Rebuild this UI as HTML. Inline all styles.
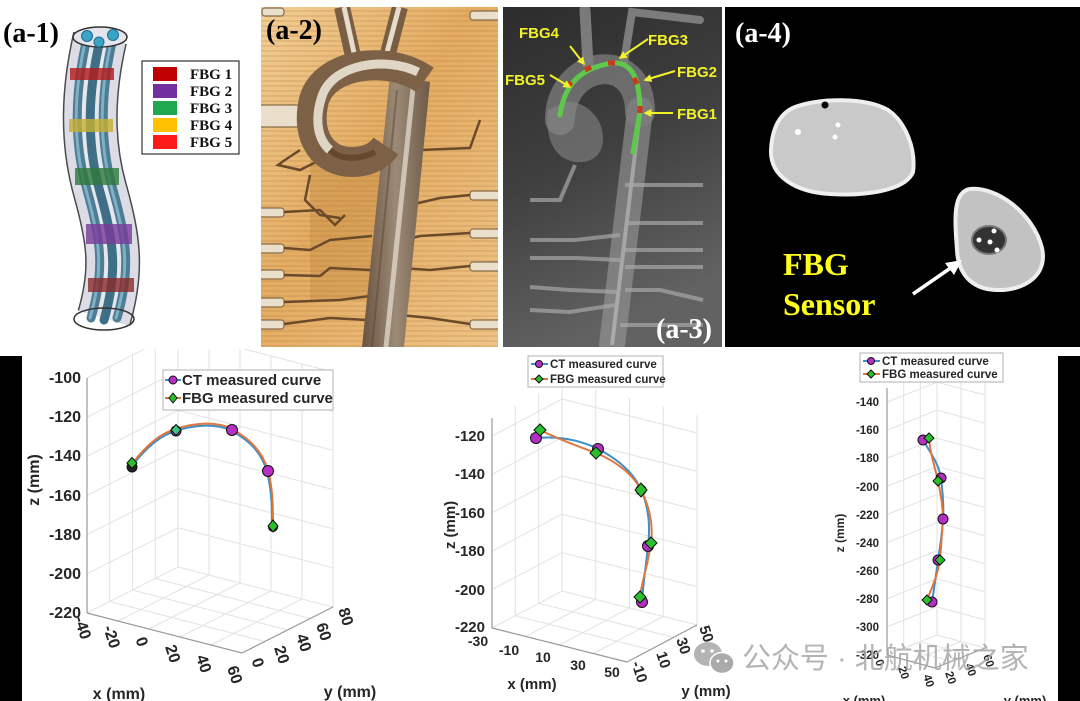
<!DOCTYPE html>
<html><head><meta charset="utf-8"><style>
html,body{margin:0;padding:0;background:#fff;}
svg{display:block;}
.tk{font-family:"Liberation Sans",Arial,sans-serif;font-weight:bold;fill:#262626;}
.sf{font-family:"Liberation Serif","Times New Roman",serif;font-weight:bold;}
.ar{font-family:"Liberation Sans",Arial,sans-serif;font-weight:bold;}
</style></head><body>
<svg width="1080" height="701" viewBox="0 0 1080 701" xmlns="http://www.w3.org/2000/svg">
<defs>
 <linearGradient id="tan" x1="0" y1="0" x2="1" y2="1">
  <stop offset="0" stop-color="#f2cf96"/><stop offset="0.45" stop-color="#e4ac62"/><stop offset="1" stop-color="#eec487"/>
 </linearGradient>
 <pattern id="scan" width="6" height="5" patternUnits="userSpaceOnUse">
  <rect width="6" height="2" fill="#a86f30" opacity="0.18"/>
 </pattern>
 <linearGradient id="dg" x1="0" y1="0" x2="0.3" y2="1">
  <stop offset="0" stop-color="#2c2c2c"/><stop offset="0.5" stop-color="#3f3f3f"/><stop offset="1" stop-color="#626262"/>
 </linearGradient>
 <linearGradient id="aor" x1="0" y1="0" x2="1" y2="0">
  <stop offset="0" stop-color="#6a5440"/><stop offset="0.5" stop-color="#9c8a76"/><stop offset="1" stop-color="#6e5a46"/>
 </linearGradient>
 <marker id="ya" viewBox="0 0 10 10" refX="8" refY="5" markerWidth="4" markerHeight="4" orient="auto">
  <path d="M0,0 L10,5 L0,10 z" fill="#f2f22a"/>
 </marker>
 <clipPath id="bot"><rect x="0" y="349" width="1080" height="352"/></clipPath>
 <clipPath id="a2"><rect x="261" y="7" width="237" height="340"/></clipPath>
 <clipPath id="a3"><rect x="503" y="7" width="219" height="340"/></clipPath>
</defs>

<rect width="1080" height="701" fill="#fff"/>

<!-- ===== (a-1) ===== -->
<g>
 <path d="M100,38 C88,90 86,140 100,190 S118,270 104,318" fill="none" stroke="#4a4a4a" stroke-width="55"/>
 <path d="M100,38 C88,90 86,140 100,190 S118,270 104,318" fill="none" stroke="#dcdce6" stroke-width="52"/>
 <path d="M100,38 C88,90 86,140 100,190 S118,270 104,318" fill="none" stroke="#ececf2" stroke-width="20" opacity="0.6"/>
 <g fill="none" stroke-linecap="round">
  <path transform="translate(-13,0)" d="M100,38 C88,90 86,140 100,190 S118,270 104,318" stroke="#4e7c92" stroke-width="9"/>
  <path transform="translate(0,2)" d="M100,38 C88,90 86,140 100,190 S118,270 104,318" stroke="#3f6f86" stroke-width="9"/>
  <path transform="translate(13,0)" d="M100,38 C88,90 86,140 100,190 S118,270 104,318" stroke="#4e7c92" stroke-width="9"/>
  <path transform="translate(-14,0)" d="M100,38 C88,90 86,140 100,190 S118,270 104,318" stroke="#7fb0c6" stroke-width="3"/>
  <path transform="translate(12,0)" d="M100,38 C88,90 86,140 100,190 S118,270 104,318" stroke="#7fb0c6" stroke-width="3"/>
 </g>
 <g opacity="0.8">
  <rect x="70" y="68" width="44" height="12" fill="#b51a1a"/>
  <rect x="69" y="119" width="44" height="13" fill="#c8b030"/>
  <rect x="75" y="168" width="44" height="17" fill="#2f7a3a"/>
  <rect x="86" y="224" width="46" height="20" fill="#7a3a9a"/>
  <rect x="88" y="278" width="46" height="14" fill="#8a2a2a"/>
 </g>
 <ellipse cx="100" cy="37" rx="27" ry="10" fill="#e4e4ec" stroke="#333" stroke-width="1.5"/>
 <circle cx="87" cy="36" r="5.5" fill="#3aa3c8" stroke="#1d6f8c"/>
 <circle cx="99" cy="42" r="5" fill="#3aa3c8" stroke="#1d6f8c"/>
 <circle cx="113" cy="35" r="5.5" fill="#3aa3c8" stroke="#1d6f8c"/>
 <ellipse cx="104" cy="319" rx="30" ry="11" fill="none" stroke="#333" stroke-width="1.5"/>
 <text x="3" y="42" class="sf" font-size="28" fill="#000">(a-1)</text>
 <rect x="142" y="61" width="97" height="93" fill="#fff" stroke="#333" stroke-width="1.2"/>
 <rect x="153" y="67" width="24" height="14" fill="#c00000"/>
 <rect x="153" y="84" width="24" height="14" fill="#7030a0"/>
 <rect x="153" y="101" width="24" height="14" fill="#1fa84f"/>
 <rect x="153" y="118" width="24" height="14" fill="#ffc000"/>
 <rect x="153" y="135" width="24" height="14" fill="#ff1a1a"/>
 <g class="sf" font-size="15" fill="#111">
  <text x="190" y="79">FBG 1</text><text x="190" y="96">FBG 2</text><text x="190" y="113">FBG 3</text><text x="190" y="130">FBG 4</text><text x="190" y="147">FBG 5</text>
 </g>
</g>

<!-- ===== (a-2) ===== -->
<g clip-path="url(#a2)">
 <rect x="261" y="7" width="237" height="340" fill="url(#tan)"/>
 <rect x="310" y="150" width="100" height="150" fill="#c48a42" opacity="0.4"/>
 <rect x="261" y="7" width="237" height="340" fill="url(#scan)"/>
 <!-- beads -->
 <g fill="#eadfca" stroke="#8a6a48" stroke-width="1.2">
  <rect x="258" y="105" width="42" height="22" rx="4"/>
  <rect x="258" y="208" width="26" height="9" rx="3"/>
  <rect x="258" y="244" width="26" height="9" rx="3"/>
  <rect x="258" y="270" width="26" height="9" rx="3"/>
  <rect x="258" y="298" width="26" height="9" rx="3"/>
  <rect x="258" y="320" width="26" height="9" rx="3"/>
  <rect x="470" y="11" width="30" height="9" rx="3"/>
  <rect x="470" y="191" width="30" height="9" rx="3"/>
  <rect x="470" y="229" width="30" height="9" rx="3"/>
  <rect x="470" y="262" width="30" height="9" rx="3"/>
  <rect x="470" y="320" width="30" height="9" rx="3"/>
  <rect x="262" y="8" width="22" height="8" rx="3"/>
 </g>
 <!-- branch lines -->
 <g fill="none" stroke="#6a4a2a" stroke-width="2.5">
  <path d="M284,212 L320,210 L335,225 L345,215"/>
  <path d="M284,248 L310,250 L330,240 L372,236"/>
  <path d="M284,275 L320,276 L330,268 L370,270"/>
  <path d="M284,302 L340,300 L370,296"/>
  <path d="M284,324 L330,318 L368,320"/>
  <path d="M470,195 L440,198 L410,205"/>
  <path d="M470,233 L420,236 L404,240"/>
  <path d="M470,266 L430,270 L402,268"/>
  <path d="M470,324 L430,318 L400,315"/>
  <path d="M300,150 L285,160 L278,165 L300,170 L320,160 L345,150"/>
  <path d="M310,175 L305,200 L320,215 L340,218"/>
  <path d="M420,150 L470,148 L480,120"/>
 </g>
 <!-- top branches -->
 <path d="M342,7 L355,65" stroke="#7a5e44" stroke-width="16" fill="none"/>
 <path d="M344,7 L356,62" stroke="#e6dccb" stroke-width="5" fill="none"/>
 <path d="M400,7 L385,65" stroke="#7a5e44" stroke-width="16" fill="none"/>
 <path d="M399,7 L385,60" stroke="#e6dccb" stroke-width="5" fill="none"/>
 <!-- descending aorta -->
 <path d="M390,75 L430,82 L404,347 L362,347 Z" fill="url(#aor)"/>
 <path d="M413,88 L386,347" stroke="#ddd5c8" stroke-width="5" fill="none" opacity="0.8"/>
 <path d="M397,90 L372,347" stroke="#5a4632" stroke-width="2" fill="none" opacity="0.5"/>
 <!-- arch -->
 <path d="M425,80 C390,55 325,62 314,100 C305,138 324,162 352,162 C372,162 382,152 386,146" fill="none" stroke="#7d6146" stroke-width="30"/>
 <path d="M418,72 C385,56 333,64 322,96 C314,120 318,140 330,150" fill="none" stroke="#ebe3d4" stroke-width="9" opacity="0.9"/>
 <path d="M330,150 C340,160 360,160 375,152" fill="none" stroke="#5a3f26" stroke-width="6" opacity="0.7"/>
 <text x="266" y="39" class="sf" font-size="28" fill="#000">(a-2)</text>
</g>

<!-- ===== (a-3) ===== -->
<g clip-path="url(#a3)">
 <rect x="503" y="7" width="219" height="340" fill="url(#dg)"/>
 <g fill="none" stroke="#9a9a9a" stroke-linecap="round" opacity="0.7">
  <path d="M588,65 L585,10" stroke-width="11"/>
  <path d="M624,62 L632,12 L700,20" stroke-width="8"/>
  <path d="M560,120 C560,60 640,48 640,112" stroke-width="30" opacity="0.75"/>
  <path d="M640,110 L612,345" stroke-width="26" opacity="0.85"/>
 </g>
 <path d="M548,110 C545,135 552,158 575,162 C598,164 606,148 602,130 C598,112 580,100 565,102 Z" fill="#8a8a8a" opacity="0.55"/>
 <path d="M640,112 L612,345" stroke="#cfcfcf" stroke-width="4" opacity="0.5" fill="none"/>
 <g fill="none" stroke="#a8a8a8" stroke-width="4" opacity="0.7">
  <path d="M530,200 L560,200 L575,165"/>
  <path d="M530,240 L575,240 L620,235"/>
  <path d="M530,258 L575,258 L620,260"/>
  <path d="M530,287 L570,290 L618,292"/>
  <path d="M530,310 L570,312 L615,305"/>
  <path d="M625,185 L670,185 L703,185"/>
  <path d="M625,223 L703,223"/>
  <path d="M625,250 L703,250"/>
  <path d="M625,267 L703,267"/>
  <path d="M625,290 L660,290 L703,300"/>
  <path d="M620,325 L703,325"/>
 </g>
 <path d="M560,115 C565,80 585,67 613,63 C630,62 640,75 640,112 L633,152" fill="none" stroke="#5ec84a" stroke-width="5" stroke-linecap="round"/>
 <g stroke="#c83a1e" stroke-width="5">
  <path d="M568,87 L571,82"/><path d="M585,70 L591,67"/><path d="M608,63 L615,63"/><path d="M634,78 L637,84"/><path d="M640,106 L640,113"/>
 </g>
 <g stroke="#f2f22a" stroke-width="2" fill="none" marker-end="url(#ya)">
  <line x1="570" y1="46" x2="584" y2="64"/>
  <line x1="648" y1="39" x2="620" y2="58"/>
  <line x1="675" y1="71" x2="645" y2="80"/>
  <line x1="550" y1="75" x2="570" y2="87"/>
  <line x1="673" y1="113" x2="645" y2="113"/>
 </g>
 <g class="ar" font-size="15" fill="#f2f22a">
  <text x="519" y="38">FBG4</text>
  <text x="648" y="45">FBG3</text>
  <text x="677" y="77">FBG2</text>
  <text x="505" y="85">FBG5</text>
  <text x="677" y="119">FBG1</text>
 </g>
 <text x="656" y="338" class="sf" font-size="28" fill="#fff">(a-3)</text>
</g>

<!-- ===== (a-4) ===== -->
<rect x="725" y="7" width="355" height="340" fill="#000"/>
<text x="735" y="42" class="sf" font-size="28" fill="#fff">(a-4)</text>
<path d="M795,107 C820,98 865,97 888,110 C906,122 916,150 913,172 C905,192 860,196 830,194 C795,192 770,176 771,150 C772,128 780,113 795,107 Z" fill="#c9c9c9" stroke="#efefef" stroke-width="4"/>
<circle cx="825" cy="105" r="3.5" fill="#000"/>
<circle cx="798" cy="132" r="3" fill="#fff"/>
<circle cx="838" cy="125" r="2.5" fill="#fff"/>
<circle cx="835" cy="137" r="2.5" fill="#fff"/>
<path d="M970,189 C995,186 1033,212 1042,248 C1048,275 1025,291 996,290 C970,289 958,272 957,250 C955,222 952,192 970,189 Z" fill="#c2c2c2" stroke="#eeeeee" stroke-width="4"/>
<ellipse cx="989" cy="240" rx="17" ry="14" fill="#333" stroke="#777" stroke-width="2"/>
<circle cx="979" cy="240" r="2.5" fill="#fff"/><circle cx="994" cy="231" r="2.5" fill="#fff"/><circle cx="990" cy="242" r="2.5" fill="#fff"/><circle cx="997" cy="250" r="2.5" fill="#fff"/>
<line x1="913" y1="294" x2="952" y2="267" stroke="#fff" stroke-width="3.5"/>
<path d="M962,260 L945,263 L954,275 Z" fill="#fff"/>
<text x="783" y="275" class="sf" font-size="32" fill="#ffff1a">FBG</text>
<text x="783" y="315" class="sf" font-size="32" fill="#ffff1a">Sensor</text>

<!-- ===== bottom black strips ===== -->
<rect x="0" y="356" width="22" height="345" fill="#000"/>
<rect x="1058" y="356" width="22" height="345" fill="#000"/>

<!-- ===== Plot 1 ===== -->
<g clip-path="url(#bot)">
 <g stroke="#e2e2e2" stroke-width="1" fill="none">
  <line x1="87" y1="613" x2="87" y2="378"/><line x1="109.75" y1="601.5" x2="109.75" y2="366.5"/><line x1="132.5" y1="590" x2="132.5" y2="355"/><line x1="155.25" y1="578.5" x2="155.25" y2="343.5"/><line x1="178" y1="567" x2="178" y2="332"/>
  <line x1="209" y1="575" x2="209" y2="340"/><line x1="240" y1="583" x2="240" y2="348"/><line x1="271" y1="591" x2="271" y2="356"/><line x1="302" y1="599" x2="302" y2="364"/><line x1="333" y1="607" x2="333" y2="372"/>
  <polyline points="87,573.8 178,527.8 333,567.8"/><polyline points="87,534.7 178,488.7 333,528.7"/><polyline points="87,495.5 178,449.5 333,489.5"/><polyline points="87,456.3 178,410.3 333,450.3"/><polyline points="87,417.2 178,371.2 333,411.2"/><polyline points="87,378 178,332 333,372"/>
  <polyline points="87,613 178,567 333,607"/>
  <line x1="109.75" y1="601.5" x2="264.75" y2="641.5"/><line x1="132.5" y1="590" x2="287.5" y2="630"/><line x1="155.25" y1="578.5" x2="310.25" y2="618.5"/>
  <line x1="118" y1="621" x2="209" y2="575"/><line x1="149" y1="629" x2="240" y2="583"/><line x1="180" y1="637" x2="271" y2="591"/><line x1="211" y1="645" x2="302" y2="599"/>
 </g>
 <g stroke="#9a9a9a" stroke-width="1.2" fill="none">
  <line x1="87" y1="613" x2="87" y2="378"/>
  <line x1="87" y1="613" x2="242" y2="653"/>
  <line x1="242" y1="653" x2="333" y2="607"/>
 </g>
 <g class="tk" font-size="16" text-anchor="end">
  <text x="81" y="383">-100</text><text x="81" y="422">-120</text><text x="81" y="461">-140</text><text x="81" y="501">-160</text><text x="81" y="540">-180</text><text x="81" y="579">-200</text><text x="81" y="618">-220</text>
 </g>
 <g class="tk" font-size="16" text-anchor="middle" dominant-baseline="central">
  <text transform="translate(82,628) rotate(72)">-40</text>
  <text transform="translate(111,637) rotate(72)">-20</text>
  <text transform="translate(141,642) rotate(72)">0</text>
  <text transform="translate(172,654) rotate(72)">20</text>
  <text transform="translate(203,664) rotate(72)">40</text>
  <text transform="translate(234,675) rotate(72)">60</text>
  <text transform="translate(257,663) rotate(72)">0</text>
  <text transform="translate(281,655) rotate(72)">20</text>
  <text transform="translate(303,643) rotate(72)">40</text>
  <text transform="translate(323,632) rotate(72)">60</text>
  <text transform="translate(345,617) rotate(72)">80</text>
 </g>
 <text class="tk" font-size="16" x="119" y="699" text-anchor="middle">x (mm)</text>
 <text class="tk" font-size="16" x="350" y="697" text-anchor="middle">y (mm)</text>
 <text class="tk" font-size="16" text-anchor="middle" transform="translate(39,480) rotate(-90)">z (mm)</text>
 <!-- curves -->
 <path d="M132,466 C145,449 160,435 176,431 C190,426 215,422 232,431 C250,441 262,453 267,472 C272,491 272,511 272,526" fill="none" stroke="#3d8fc8" stroke-width="2"/>
 <path d="M132,464 C145,447 160,433 176,429 C190,424 215,420 232,429 C250,439 262,451 268,470 C273,489 273,509 273,526" fill="none" stroke="#e0763c" stroke-width="2"/>
 <g stroke="#111" stroke-width="1">
  <circle cx="132" cy="467" r="5" fill="#222"/>
  <path d="M132,457.5 L137,463 L132,468.5 L127,463 Z" fill="#2bc02b"/>
  <circle cx="176" cy="431" r="5" fill="#b52fc4"/>
  <path d="M176,424.5 L181,430 L176,435.5 L171,430 Z" fill="#3fbf8a"/>
  <circle cx="232" cy="430" r="5.5" fill="#b52fc4"/>
  <circle cx="268" cy="471" r="5.5" fill="#b52fc4"/>
  <circle cx="273" cy="527" r="4.5" fill="#222"/>
  <path d="M273,520 L278,526 L273,532 L268,526 Z" fill="#2bc02b"/>
 </g>
 <!-- legend -->
 <rect x="163" y="370" width="170" height="40" fill="#fff" stroke="#b0b0b0"/>
 <line x1="165" y1="380" x2="181" y2="380" stroke="#3d8fc8" stroke-width="2"/>
 <circle cx="173" cy="380" r="4" fill="#b52fc4" stroke="#111"/>
 <line x1="165" y1="398" x2="181" y2="398" stroke="#e0763c" stroke-width="2"/>
 <path d="M173,393 L177,398 L173,403 L169,398 Z" fill="#2bc02b" stroke="#111"/>
 <text class="tk" font-size="15" x="182" y="385">CT measured curve</text>
 <text class="tk" font-size="15" x="182" y="403">FBG measured curve</text>
</g>

<!-- ===== Plot 2 ===== -->
<g>
 <g stroke="#e2e2e2" stroke-width="1" fill="none">
  <line x1="492" y1="628" x2="492" y2="418"/><line x1="515.3" y1="615.7" x2="515.3" y2="405.7"/><line x1="538.7" y1="603.3" x2="538.7" y2="393.3"/><line x1="562" y1="591" x2="562" y2="381"/>
  <line x1="595.75" y1="599.5" x2="595.75" y2="389.5"/><line x1="629.5" y1="608" x2="629.5" y2="398"/><line x1="663.25" y1="616.5" x2="663.25" y2="406.5"/><line x1="697" y1="625" x2="697" y2="415"/>
  <polyline points="492,589.6 562,552.6 697,586.6"/><polyline points="492,551.2 562,514.2 697,548.2"/><polyline points="492,512.8 562,475.8 697,509.8"/><polyline points="492,474.4 562,437.4 697,471.4"/><polyline points="492,436 562,399 697,433"/>
  <polyline points="492,628 562,591 697,625"/>
  <line x1="515.3" y1="615.7" x2="650.3" y2="649.7"/><line x1="538.7" y1="603.3" x2="673.7" y2="637.3"/>
  <line x1="525.75" y1="636.5" x2="595.75" y2="599.5"/><line x1="559.5" y1="645" x2="629.5" y2="608"/><line x1="593.25" y1="653.5" x2="663.25" y2="616.5"/>
 </g>
 <g stroke="#9a9a9a" stroke-width="1.2" fill="none">
  <line x1="492" y1="628" x2="492" y2="418"/>
  <line x1="492" y1="628" x2="627" y2="662"/>
  <line x1="627" y1="662" x2="697" y2="625"/>
 </g>
 <g class="tk" font-size="15" text-anchor="end">
  <text x="485" y="441">-120</text><text x="485" y="479">-140</text><text x="485" y="518">-160</text><text x="485" y="556">-180</text><text x="485" y="595">-200</text><text x="485" y="632">-220</text>
 </g>
 <g class="tk" font-size="14" text-anchor="middle">
  <text x="478" y="646">-30</text><text x="509" y="655">-10</text><text x="543" y="662">10</text><text x="578" y="670">30</text><text x="612" y="677">50</text>
 </g>
 <g class="tk" font-size="15" text-anchor="middle" dominant-baseline="central">
  <text transform="translate(639,672) rotate(72)">-10</text>
  <text transform="translate(663,660) rotate(72)">10</text>
  <text transform="translate(683,646) rotate(72)">30</text>
  <text transform="translate(706,634) rotate(72)">50</text>
 </g>
 <text class="tk" font-size="15" x="532" y="689" text-anchor="middle">x (mm)</text>
 <text class="tk" font-size="15" x="706" y="696" text-anchor="middle">y (mm)</text>
 <text class="tk" font-size="15" text-anchor="middle" transform="translate(455,525) rotate(-90)">z (mm)</text>
 <path d="M536,438 C560,436 580,440 598,449 C620,460 635,475 641,490 C650,510 650,530 648,546 C646,565 643,585 642,602" fill="none" stroke="#3d8fc8" stroke-width="2"/>
 <path d="M540,430 C560,440 580,447 596,453 C618,462 634,476 641,490 C651,510 653,528 651,543 C648,565 642,580 640,597" fill="none" stroke="#e0763c" stroke-width="2"/>
 <g stroke="#111" stroke-width="1">
  <circle cx="536" cy="438" r="5.5" fill="#b52fc4"/>
  <path d="M540,424 L546,430 L540,436 L534,430 Z" fill="#2bc02b"/>
  <circle cx="598" cy="449" r="5.5" fill="#b52fc4"/>
  <path d="M596,447 L602,453 L596,459 L590,453 Z" fill="#2bc02b"/>
  <circle cx="641" cy="490" r="5" fill="#b52fc4"/>
  <path d="M641,483 L647,490 L641,497 L635,490 Z" fill="#2bc02b"/>
  <circle cx="648" cy="546" r="5.5" fill="#b52fc4"/>
  <path d="M651,537 L657,543 L651,549 L645,543 Z" fill="#2bc02b"/>
  <circle cx="642" cy="602" r="5.5" fill="#b52fc4"/>
  <path d="M640,591 L646,597 L640,603 L634,597 Z" fill="#2bc02b"/>
 </g>
 <rect x="528" y="356" width="135" height="31" fill="#fff" stroke="#b0b0b0"/>
 <line x1="531" y1="364" x2="548" y2="364" stroke="#3d8fc8" stroke-width="2"/>
 <circle cx="539" cy="364" r="3.5" fill="#b52fc4" stroke="#111"/>
 <line x1="531" y1="379" x2="548" y2="379" stroke="#e0763c" stroke-width="2"/>
 <path d="M539,375 L543,379 L539,383 L535,379 Z" fill="#2bc02b" stroke="#111"/>
 <text class="tk" font-size="11.5" x="550" y="368">CT measured curve</text>
 <text class="tk" font-size="11.5" x="550" y="383">FBG measured curve</text>
</g>

<!-- ===== Plot 3 ===== -->
<g>
 <g stroke="#e2e2e2" stroke-width="1" fill="none">
  <line x1="887" y1="655" x2="887" y2="388"/><line x1="903.7" y1="648.3" x2="903.7" y2="381.3"/><line x1="920.3" y1="641.7" x2="920.3" y2="374.7"/><line x1="937" y1="635" x2="937" y2="368"/>
  <line x1="961" y1="641.5" x2="961" y2="374.5"/><line x1="985" y1="648" x2="985" y2="381"/>
  <polyline points="887,626.9 937,606.9 985,619.9"/><polyline points="887,598.8 937,578.8 985,591.8"/><polyline points="887,570.7 937,550.7 985,563.7"/><polyline points="887,542.6 937,522.6 985,535.6"/><polyline points="887,514.5 937,494.5 985,507.5"/><polyline points="887,486.4 937,466.4 985,479.4"/><polyline points="887,458.3 937,438.3 985,451.3"/><polyline points="887,430.2 937,410.2 985,423.2"/><polyline points="887,402.1 937,382.1 985,395.1"/>
  <polyline points="887,655 937,635 985,648"/>
  <line x1="903.7" y1="648.3" x2="951.7" y2="661.3"/><line x1="920.3" y1="641.7" x2="968.3" y2="654.7"/>
  <line x1="911" y1="661.5" x2="961" y2="641.5"/>
 </g>
 <g stroke="#9a9a9a" stroke-width="1.2" fill="none">
  <line x1="887" y1="655" x2="887" y2="388"/>
  <line x1="887" y1="655" x2="935" y2="668"/>
  <line x1="935" y1="668" x2="985" y2="648"/>
 </g>
 <g class="tk" font-size="11.5" text-anchor="end">
  <text x="879" y="406">-140</text><text x="879" y="434">-160</text><text x="879" y="462">-180</text><text x="879" y="491">-200</text><text x="879" y="519">-220</text><text x="879" y="547">-240</text><text x="879" y="575">-260</text><text x="879" y="603">-280</text><text x="879" y="631">-300</text><text x="879" y="659">-320</text>
 </g>
 <g class="tk" font-size="11.5" text-anchor="middle" dominant-baseline="central">
  <text transform="translate(879,663) rotate(72)">0</text>
  <text transform="translate(903,673) rotate(72)">20</text>
  <text transform="translate(928,681) rotate(72)">40</text>
  <text transform="translate(950,678) rotate(72)">20</text>
  <text transform="translate(970,670) rotate(72)">40</text>
  <text transform="translate(988,661) rotate(72)">60</text>
 </g>
 <text class="tk" font-size="13" x="864" y="705" text-anchor="middle">x (mm)</text>
 <text class="tk" font-size="13" x="1025" y="705" text-anchor="middle">y (mm)</text>
 <text class="tk" font-size="12" text-anchor="middle" transform="translate(844,533) rotate(-90)">z (mm)</text>
 <path d="M923,440 C932,455 939,465 941,478 C943,495 944,508 943,519 C942,535 940,548 938,560 C936,575 934,590 932,602" fill="none" stroke="#3d8fc8" stroke-width="2"/>
 <path d="M929,438 C930,455 936,470 938,481 C941,495 943,508 943,520 C942,535 941,548 940,560 C937,578 930,592 927,600" fill="none" stroke="#e0763c" stroke-width="2"/>
 <g stroke="#111" stroke-width="1">
  <circle cx="923" cy="440" r="5" fill="#b52fc4"/>
  <path d="M929,433 L934,438 L929,443 L924,438 Z" fill="#2bc02b"/>
  <circle cx="941" cy="478" r="5" fill="#b52fc4"/>
  <path d="M938,476 L943,481 L938,486 L933,481 Z" fill="#2bc02b"/>
  <circle cx="943" cy="519" r="5" fill="#b52fc4"/>
  <circle cx="938" cy="560" r="5" fill="#b52fc4"/>
  <path d="M940,555 L945,560 L940,565 L935,560 Z" fill="#2bc02b"/>
  <circle cx="932" cy="602" r="5" fill="#b52fc4"/>
  <path d="M927,595 L932,600 L927,605 L922,600 Z" fill="#2bc02b"/>
 </g>
 <rect x="860" y="353" width="143" height="29" fill="#fff" stroke="#b0b0b0"/>
 <line x1="863" y1="361" x2="880" y2="361" stroke="#3d8fc8" stroke-width="2"/>
 <circle cx="871" cy="361" r="3.5" fill="#b52fc4" stroke="#111"/>
 <line x1="863" y1="374" x2="880" y2="374" stroke="#e0763c" stroke-width="2"/>
 <path d="M871,370 L875,374 L871,378 L867,374 Z" fill="#2bc02b" stroke="#111"/>
 <text class="tk" font-size="11.5" x="882" y="365">CT measured curve</text>
 <text class="tk" font-size="11.5" x="882" y="378">FBG measured curve</text>
</g>

<!-- ===== watermark ===== -->
<g opacity="0.75">
 <ellipse cx="708" cy="654" rx="14" ry="12" fill="#9c9c9c"/>
 <ellipse cx="722" cy="663" rx="12" ry="10.5" fill="#8e8e8e" stroke="#fff" stroke-width="1.5"/>
 <circle cx="703" cy="651" r="1.8" fill="#fff"/><circle cx="712" cy="651" r="1.8" fill="#fff"/>
 <circle cx="718" cy="661" r="1.5" fill="#fff"/><circle cx="726" cy="661" r="1.5" fill="#fff"/>
</g>
<text x="742" y="668" font-family="'Liberation Sans','Noto Sans CJK SC',sans-serif" font-size="29" fill="#a8a8a8" opacity="0.85">公众号 · 北航机械之家</text>
</svg>
</body></html>
